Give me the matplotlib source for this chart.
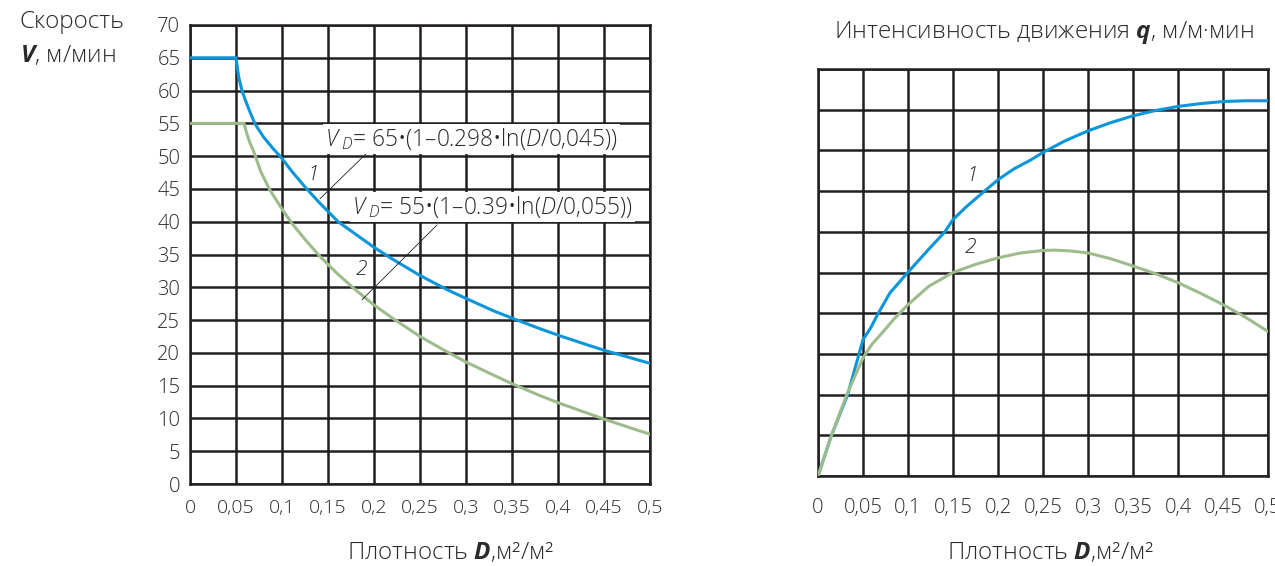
import matplotlib
matplotlib.use("Agg")
import matplotlib.pyplot as plt

plt.rcParams['font.family'] = ['Open Sans', 'DejaVu Sans']
plt.rcParams['font.weight'] = 'light'
plt.rcParams['mathtext.fontset'] = 'custom'
plt.rcParams['mathtext.rm'] = 'Open Sans:light'
plt.rcParams['mathtext.it'] = 'Open Sans:italic:light'
plt.rcParams['mathtext.bf'] = 'Open Sans:bold'
plt.rcParams['mathtext.bfit'] = 'Open Sans:italic:bold'

# ---- data: left chart, speed V (m/min) vs density D ----
d_v1 = [0, 0.05, 0.053, 0.0565, 0.06, 0.065, 0.0707, 0.08, 0.09, 0.0997, 0.11, 0.125, 0.14,
        0.161, 0.18, 0.20, 0.22, 0.25, 0.28, 0.30, 0.33, 0.35, 0.38, 0.40, 0.43, 0.45, 0.48, 0.50]
v1 = [65, 65, 62.0, 60.0, 58.6, 56.8, 54.9, 52.9, 51.2, 49.7, 47.8, 45.3, 43.0,
      40.0, 38.1, 36.1, 34.3, 31.8, 29.6, 28.3, 26.4, 25.3, 23.7, 22.7, 21.3, 20.4, 19.2, 18.4]

d_v2 = [0, 0.0587, 0.0616, 0.0652, 0.0688, 0.077, 0.087, 0.0997, 0.1105, 0.125, 0.1413,
        0.16, 0.18, 0.20, 0.22, 0.25, 0.28, 0.30, 0.33, 0.35, 0.38, 0.40, 0.43, 0.45, 0.48, 0.50]
v2 = [55, 55, 53.5, 52.0, 50.9, 47.6, 44.8, 42.0, 39.8, 37.3, 34.7,
      32.1, 29.6, 27.3, 25.3, 22.5, 20.1, 18.6, 16.6, 15.3, 13.5, 12.4, 10.9, 9.9, 8.5, 7.6]

# ---- data: right chart, flow intensity q vs density D ----
d_q1 = [0, 0.015, 0.033, 0.05, 0.058, 0.067, 0.08, 0.0997, 0.123, 0.141, 0.15, 0.165, 0.184, 0.20,
        0.218, 0.236, 0.25, 0.275, 0.30, 0.325, 0.35, 0.375, 0.40, 0.425, 0.45, 0.475, 0.50]
q1 = [0, 1.0, 2.0, 3.35, 3.62, 4.0, 4.5, 5.0, 5.57, 6.0, 6.3, 6.62, 6.98, 7.28,
      7.55, 7.76, 7.95, 8.24, 8.48, 8.68, 8.85, 8.98, 9.08, 9.15, 9.2, 9.22, 9.22]

d_q2 = [0, 0.015, 0.032, 0.05, 0.06, 0.071, 0.085, 0.10, 0.123, 0.15, 0.175, 0.20, 0.225, 0.25, 0.263,
        0.28, 0.30, 0.325, 0.35, 0.375, 0.40, 0.425, 0.45, 0.475, 0.50]
q2 = [0, 1.0, 2.0, 2.9, 3.24, 3.51, 3.87, 4.21, 4.66, 5.0, 5.2, 5.36, 5.48, 5.54, 5.55,
      5.53, 5.48, 5.34, 5.16, 4.97, 4.75, 4.49, 4.21, 3.9, 3.55]

x_ticks = [0, 0.05, 0.1, 0.15, 0.2, 0.25, 0.3, 0.35, 0.4, 0.45, 0.5]
x_labels = ['0', '0,05', '0,1', '0,15', '0,2', '0,25', '0,3', '0,35', '0,4', '0,45', '0,5']
v_ticks = list(range(0, 71, 5))
q_ticks = list(range(0, 11))

BLUE = '#0c95d8'
GREEN = '#9dbb8c'
GRID = '#231f20'
TXT = '#2a2a2a'

W, H = 1275, 566
fig = plt.figure(figsize=(W / 100, H / 100), dpi=100)

def px_axes(x0, y0, x1, y1):
    return fig.add_axes([x0 / W, 1 - y1 / H, (x1 - x0) / W, (y1 - y0) / H])

def style(ax):
    ax.grid(True, color=GRID, linewidth=1.8, zorder=1)
    ax.set_axisbelow(True)
    for s in ax.spines.values():
        s.set_color(GRID)
        s.set_linewidth(1.8)
        s.set_zorder(1)
    ax.tick_params(length=0, colors=TXT)

# left chart
ax1 = px_axes(190, 25, 650, 484)
style(ax1)
ax1.set_xlim(0, 0.5)
ax1.set_ylim(0, 70)
ax1.set_xticks(x_ticks)
ax1.set_xticklabels(x_labels, fontsize=14)
ax1.set_yticks(v_ticks)
ax1.set_yticklabels([str(t) for t in v_ticks], fontsize=14.5)
ax1.tick_params(axis='y', pad=7)
ax1.tick_params(axis='x', pad=11)
ax1.plot(d_v1, v1, color=BLUE, lw=2.2, zorder=3, solid_joinstyle='round')
ax1.plot(d_v2, v2, color=GREEN, lw=2.2, zorder=3, solid_joinstyle='round')

ax1.plot([0.1413, 0.1924], [43.5, 50.5], color=GRID, lw=0.6, zorder=4)
ax1.plot([0.187, 0.2685], [28.1, 39.5], color=GRID, lw=0.6, zorder=4)
bb = dict(facecolor='white', edgecolor='none', pad=1.5)
ax1.text(0.147, 52.6, r'$\mathit{V}_{\ \mathit{D}}$= 65•(1–0.298•ln($\mathit{D}$/0,045))',
         fontsize=16.3, color=TXT, ha='left', va='center', bbox=bb, zorder=5)
ax1.text(0.176, 42.3, r'$\mathit{V}_{\ \mathit{D}}$= 55•(1–0.39•ln($\mathit{D}$/0,055))',
         fontsize=16.3, color=TXT, ha='left', va='center', bbox=bb, zorder=5)
ax1.text(0.134, 47.1, '1', fontsize=15, style='italic', color=TXT, ha='center', va='center', zorder=5)
ax1.text(0.186, 32.6, '2', fontsize=15, style='italic', color=TXT, ha='center', va='center', zorder=5)

# right chart
ax2 = px_axes(818, 69, 1268, 476)
style(ax2)
ax2.set_xlim(0, 0.5)
ax2.set_ylim(0, 10)
ax2.set_xticks(x_ticks)
ax2.set_xticklabels(x_labels, fontsize=14.5)
ax2.set_yticks(q_ticks)
ax2.set_yticklabels([])
ax2.tick_params(axis='x', pad=16)
ax2.plot(d_q1, q1, color=BLUE, lw=2.2, zorder=3, solid_joinstyle='round')
ax2.plot(d_q2, q2, color=GREEN, lw=2.2, zorder=3, solid_joinstyle='round')
ax2.text(0.171, 7.37, '1', fontsize=15, style='italic', color=TXT, ha='center', va='center', zorder=5)
ax2.text(0.169, 5.6, '2', fontsize=15, style='italic', color=TXT, ha='center', va='center', zorder=5)

# axis titles
fig.text(72 / W, 1 - 22 / H, 'Скорость', fontsize=17.5, color=TXT, ha='center', va='center')
fig.text(68 / W, 1 - 56 / H, r'$\mathbfit{V}$, м/мин', fontsize=17.5, color=TXT, ha='center', va='center')
fig.text(1044 / W, 1 - 33 / H, r'Интенсивность движения $\mathbfit{q}$, м/м·мин',
         fontsize=17.5, color=TXT, ha='center', va='center')
fig.text(451 / W, 1 - 553 / H, r'Плотность $\mathbfit{D}$,м²/м²', fontsize=17.5, color=TXT,
         ha='center', va='center')
fig.text(1051 / W, 1 - 553 / H, r'Плотность $\mathbfit{D}$,м²/м²', fontsize=17.5, color=TXT,
         ha='center', va='center')

fig.savefig('out.png', dpi=100)
